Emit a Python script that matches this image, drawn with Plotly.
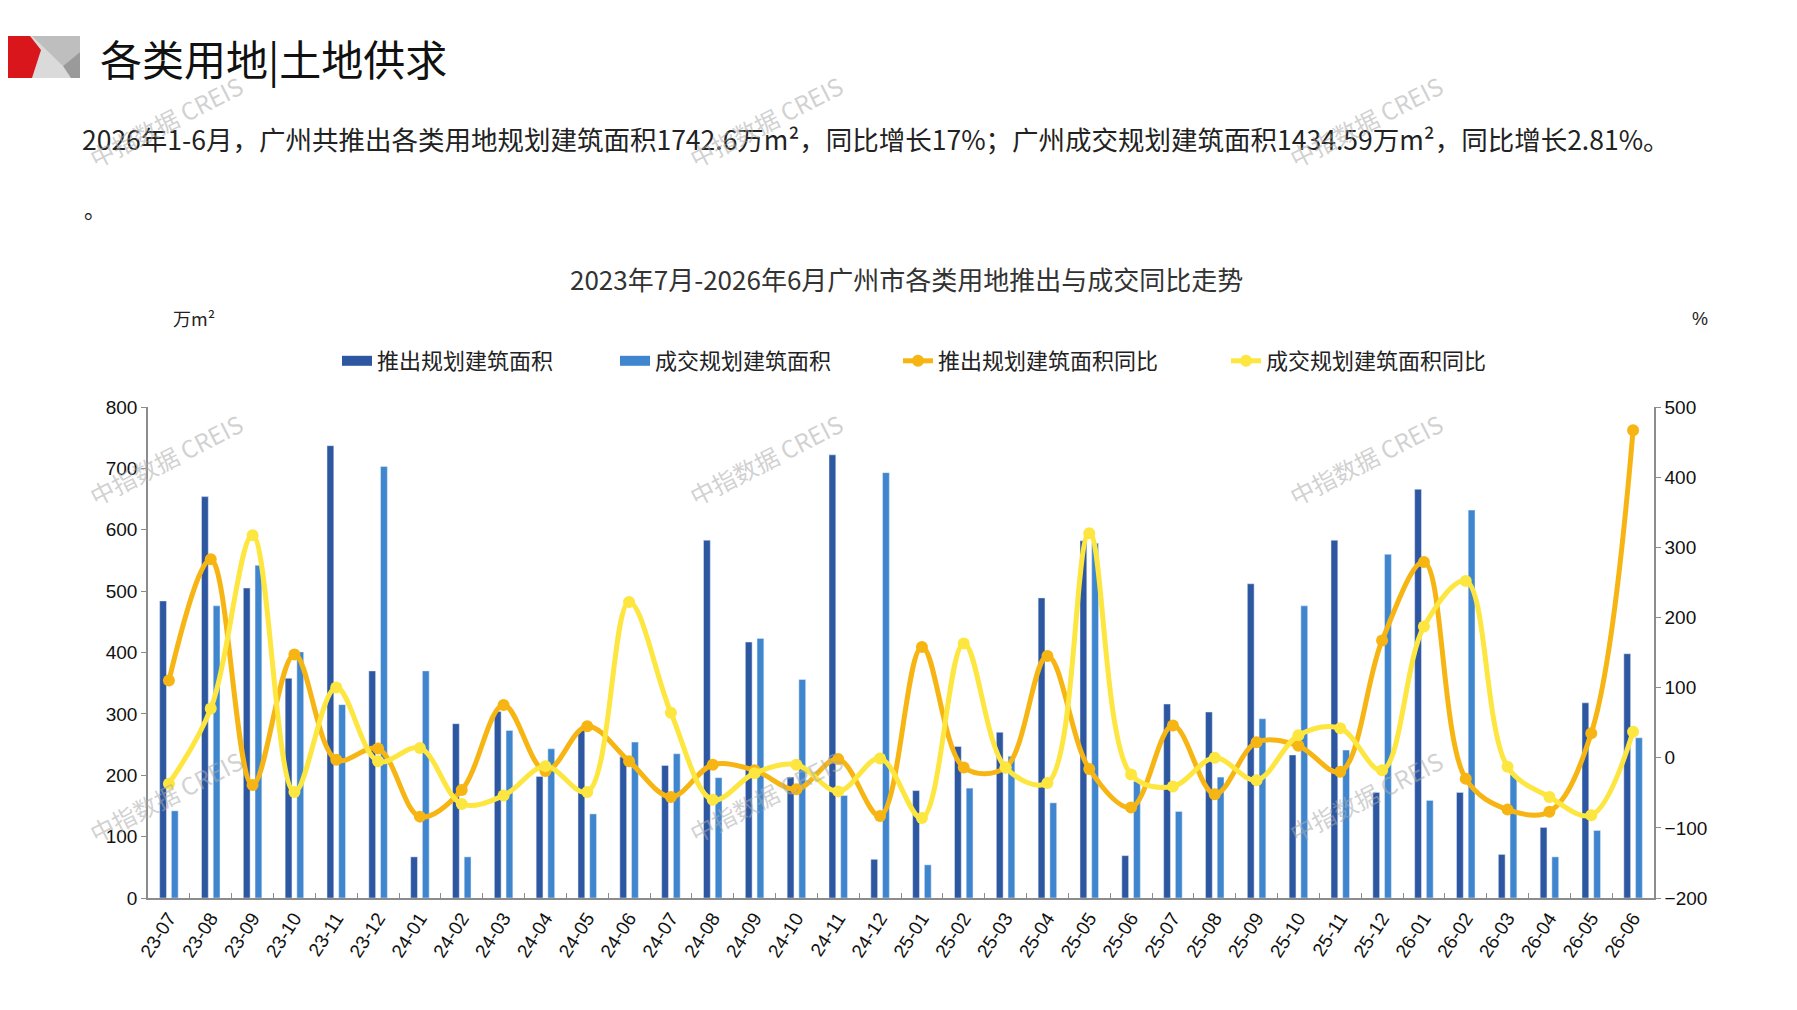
import plotly.graph_objects as go

months = ["23-07","23-08","23-09","23-10","23-11","23-12",
          "24-01","24-02","24-03","24-04","24-05","24-06",
          "24-07","24-08","24-09","24-10","24-11","24-12",
          "25-01","25-02","25-03","25-04","25-05","25-06",
          "25-07","25-08","25-09","25-10","25-11","25-12",
          "26-01","26-02","26-03","26-04","26-05","26-06"]

supply_area = [484, 654, 505, 358, 737, 370,
               67, 284, 304, 198, 274, 230,
               216, 583, 417, 197, 722, 63,
               175, 247, 270, 489, 582, 69,
               316, 303, 512, 233, 583, 172,
               666, 172, 71, 115, 318, 398]

deal_area = [142, 476, 542, 401, 315, 703,
             370, 67, 273, 243, 137, 254,
             235, 196, 423, 356, 167, 693,
             54, 179, 231, 155, 578, 190,
             141, 197, 292, 476, 241, 560,
             159, 632, 201, 67, 110, 261]

supply_yoy = [110, 283, -39, 147, -3, 13,
              -84, -46, 75, -19, 45, -5,
              -56, -10, -18, -45, -2, -83,
              158, -14, -14, 145, -16, -71,
              46, -52, 22, 17, -20, 167,
              279, -30, -74, -77, 35, 467]

deal_yoy = [-37, 70, 317, -49, 100, -5,
            14, -66, -54, -12, -49, 222,
            64, -60, -22, -10, -48, -1,
            -86, 163, -14, -36, 320, -24,
            -41, 0, -32, 32, 42, -18,
            187, 252, -13, -56, -82, 37]

names = ["推出规划建筑面积", "成交规划建筑面积", "推出规划建筑面积同比", "成交规划建筑面积同比"]
colors = ["#2E57A2", "#3F86CF", "#F6B512", "#FDE63F"]

CJK = "Noto Sans CJK SC"
NUM = "Liberation Sans"

W_FIG, H_FIG = 1797, 1010
X0, X1, YT, YB = 140, 1646, 399, 890
PW, PH = X1 - X0, YB - YT

def px(x):
    return (x - X0) / PW

def py(y):
    return (YB - y) / PH

fig = go.Figure()

fig.add_trace(go.Bar(x=months, y=supply_area, name=names[0], marker_color=colors[0],
                     showlegend=False, yaxis="y"))
fig.add_trace(go.Bar(x=months, y=deal_area, name=names[1], marker_color=colors[1],
                     showlegend=False, yaxis="y"))

# legend swatches for the bar series
fig.add_trace(go.Scatter(x=[None], y=[None], mode="lines", name=names[0],
                         line=dict(color=colors[0], width=12), legend="legend"))
fig.add_trace(go.Scatter(x=[None], y=[None], mode="lines", name=names[1],
                         line=dict(color=colors[1], width=12), legend="legend2"))

fig.add_trace(go.Scatter(x=months, y=supply_yoy, name=names[2], mode="lines+markers",
                         line=dict(color=colors[2], width=5, shape="spline", smoothing=1.0),
                         marker=dict(size=12, color=colors[2]), yaxis="y2", legend="legend3"))
fig.add_trace(go.Scatter(x=months, y=deal_yoy, name=names[3], mode="lines+markers",
                         line=dict(color=colors[3], width=5, shape="spline", smoothing=1.0),
                         marker=dict(size=12, color=colors[3]), yaxis="y2", legend="legend4"))

leg_font = dict(family=CJK, size=22, color="#222222")
leg_y = py(353)
def leg(xpx):
    return dict(x=px(xpx), y=leg_y, xanchor="left", yanchor="middle", orientation="h",
                font=leg_font, bgcolor="rgba(0,0,0,0)", itemwidth=30)

shapes = [
    # logo
    dict(type="rect", xref="paper", yref="paper", x0=px(20), x1=px(72), y0=py(70), y1=py(28),
         fillcolor="#DADADA", line=dict(width=0), layer="above"),
    dict(type="path", xref="paper", yref="paper",
         path=f"M{px(24)},{py(28)} L{px(72)},{py(28)} L{px(72)},{py(44)} L{px(55)},{py(58)} Z",
         fillcolor="#BEBEBE", line=dict(width=0)),
    dict(type="path", xref="paper", yref="paper",
         path=f"M{px(55)},{py(58)} L{px(72)},{py(44)} L{px(72)},{py(70)} L{px(63)},{py(70)} Z",
         fillcolor="#9A9A9A", line=dict(width=0)),
    dict(type="path", xref="paper", yref="paper",
         path=f"M{px(0)},{py(28)} L{px(22)},{py(28)} L{px(33)},{py(42)} L{px(24)},{py(70)} L{px(0)},{py(70)} Z",
         fillcolor="#D8161C", line=dict(width=0)),
]

annotations = [
    dict(text="各类用地|土地供求", x=px(90), y=py(50), xref="paper", yref="paper",
         xanchor="left", yanchor="middle", showarrow=False,
         font=dict(family=CJK, size=42, color="#111111")),
    dict(text="2026年1-6月，广州共推出各类用地规划建筑面积1742.6万m²，同比增长17%；广州成交规划建筑面积1434.59万m²，同比增长2.81%。",
         x=px(72), y=py(130), xref="paper", yref="paper", xanchor="left", yanchor="middle",
         showarrow=False, font=dict(family=CJK, size=26.5, color="#222222")),
    dict(text="。", x=px(74), y=py(200), xref="paper", yref="paper", xanchor="left", yanchor="middle",
         showarrow=False, font=dict(family=CJK, size=22, color="#222222")),
    dict(text="2023年7月-2026年6月广州市各类用地推出与成交同比走势", x=px(898), y=py(270),
         xref="paper", yref="paper", xanchor="center", yanchor="middle", showarrow=False,
         font=dict(family=CJK, size=26, color="#333333")),
    dict(text="万m²", x=px(186), y=py(310), xref="paper", yref="paper", xanchor="center",
         yanchor="middle", showarrow=False, font=dict(family=CJK, size=18, color="#222222")),
    dict(text="%", x=px(1692), y=py(311), xref="paper", yref="paper", xanchor="center",
         yanchor="middle", showarrow=False, font=dict(family=NUM, size=18, color="#222222")),
]

for wx in (157, 757, 1357):
    for wy in (113, 451, 788):
        annotations.append(dict(text="中指数据 CREIS", x=px(wx), y=py(wy), xref="paper", yref="paper",
                                xanchor="center", yanchor="middle", showarrow=False, textangle=-27,
                                font=dict(family=CJK, size=24, color="rgba(170,170,170,0.55)")))

axis_line = dict(showline=True, linecolor="#8C8C8C", linewidth=1.5, showgrid=False, zeroline=False)

fig.update_layout(
    width=W_FIG, height=H_FIG,
    margin=dict(l=X0, r=W_FIG - X1, t=YT, b=H_FIG - YB, autoexpand=False),
    paper_bgcolor="white", plot_bgcolor="white",
    barmode="group", bargap=0.44, bargroupgap=0.42,
    xaxis=dict(type="category", range=[-0.5, len(months) - 0.5], tickangle=-57, ticks="inside",
               ticklen=5, tickcolor="#8C8C8C", tickson="boundaries",
               tickfont=dict(family=NUM, size=19, color="#111111"), **axis_line),
    yaxis=dict(range=[0, 800], dtick=100, ticks="outside", ticklen=5, tickcolor="#8C8C8C",
               tickfont=dict(family=NUM, size=19, color="#111111"), **axis_line),
    yaxis2=dict(range=[-200, 500], dtick=100, overlaying="y", side="right", ticks="outside",
                ticklen=5, tickcolor="#8C8C8C", tickfont=dict(family=NUM, size=19, color="#111111"),
                **axis_line),
    legend=leg(329), legend2=leg(607), legend3=leg(890), legend4=leg(1218),
    shapes=shapes, annotations=annotations,
)

fig.write_html("out.html")
